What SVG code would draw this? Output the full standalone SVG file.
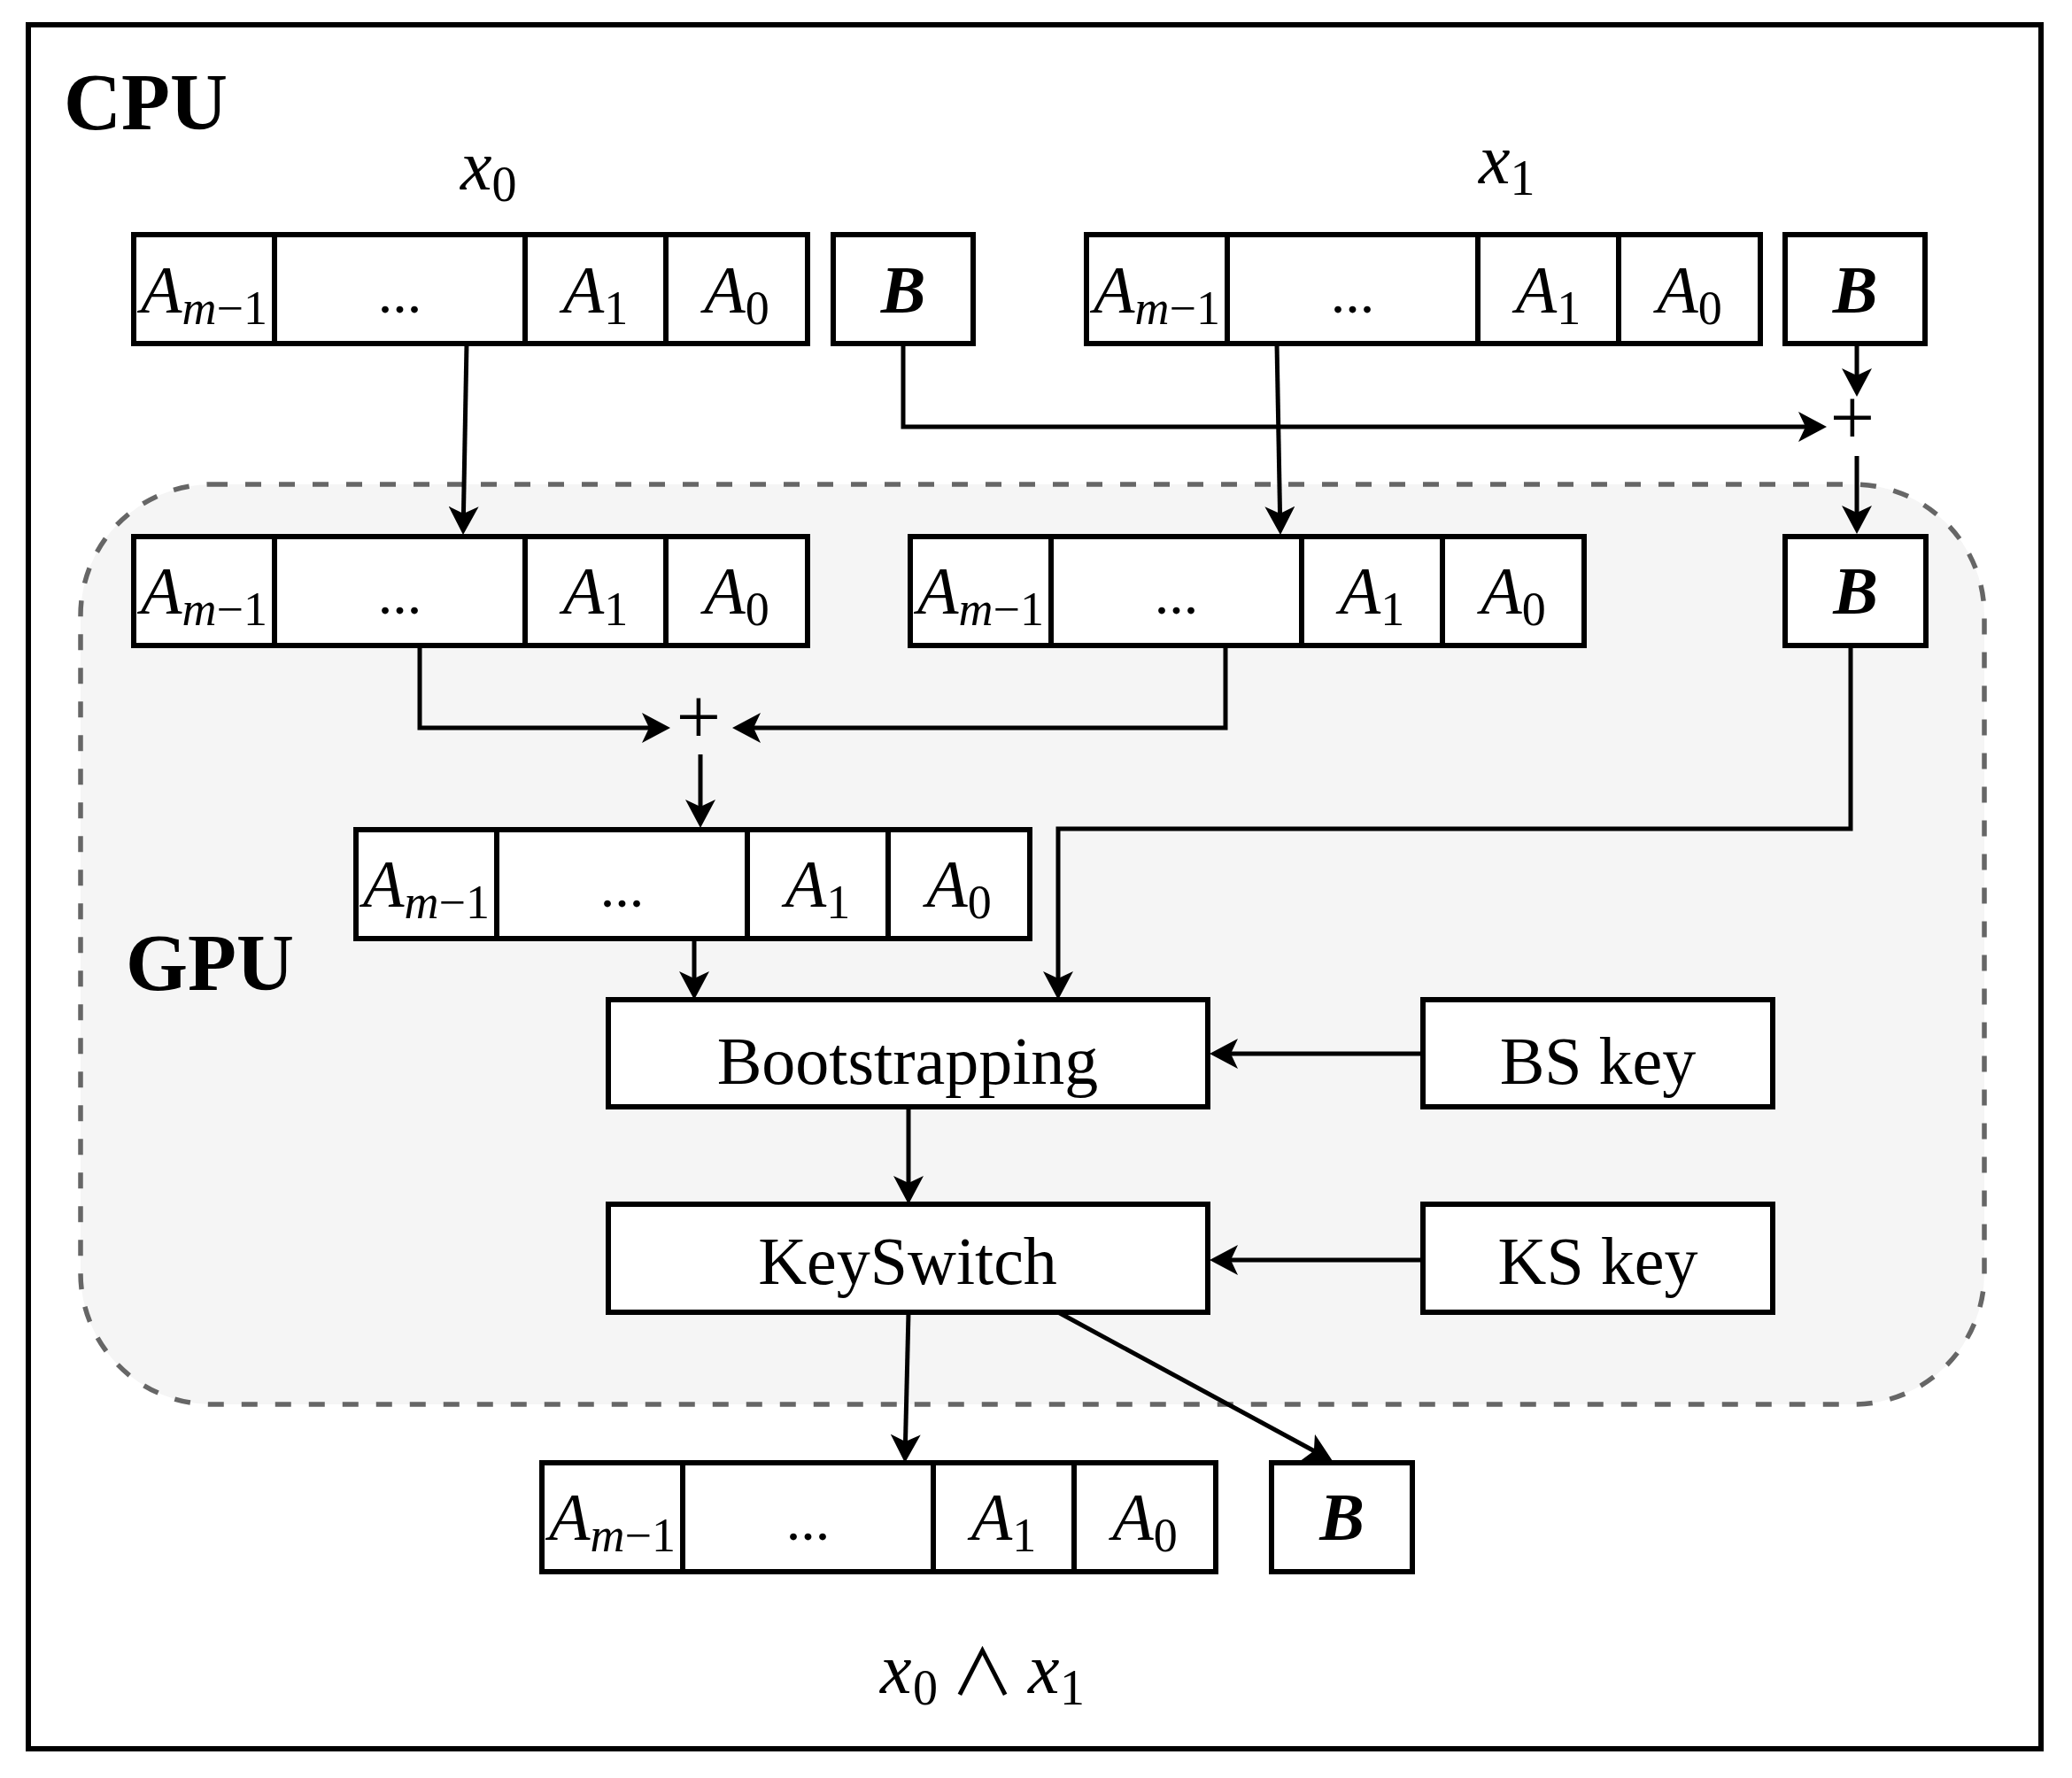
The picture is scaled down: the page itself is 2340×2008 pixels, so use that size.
<svg xmlns="http://www.w3.org/2000/svg" width="2340" height="2008" viewBox="0 0 2340 2008">
<style>
text{font-family:"Liberation Serif","DejaVu Serif",serif;fill:#000}
.box{fill:#fff;stroke:#000;stroke-width:6}
.cell{fill:none;stroke:#000;stroke-width:6}
.m{font-size:76px;font-style:italic;text-anchor:middle}
.b{font-size:76px;font-style:italic;font-weight:bold;text-anchor:middle}
.sb{font-size:54px;font-style:normal}
.it{font-style:italic}
.dots{font-size:66px;text-anchor:middle}
.lbl{font-size:76px;text-anchor:middle}
.title{font-size:90px;font-weight:bold}
.plus{font-size:90px;text-anchor:middle}
.con{fill:none;stroke:#000;stroke-width:5;marker-end:url(#arr)}
</style>
<defs>
<marker id="arr" viewBox="0 0 32 34" markerWidth="32" markerHeight="34" refX="22" refY="17" orient="auto" markerUnits="userSpaceOnUse">
<path d="M0,0 L32,17 L0,34 L8,17 Z" fill="#000"/>
</marker>
</defs>
<rect id="cpu-frame" x="32" y="28" width="2273" height="1947" fill="#fff" stroke="#000" stroke-width="6"/>
<g id="cpu-label"><text class="title" x="72" y="146">CPU</text></g>
<g id="gpu-region">
<rect x="91" y="547" width="2150" height="1039" rx="148" ry="148" fill="#f5f5f5" stroke="#666" stroke-width="5.5" stroke-dasharray="18 20"/>
<text class="title" x="142" y="1118">GPU</text>
</g>
<g id="label-x0"><text x="520" y="214" font-size="80" font-style="italic">x<tspan font-size="56" font-style="normal" dy="13">0</tspan></text></g>
<g id="label-x1"><text x="1670" y="207" font-size="80" font-style="italic">x<tspan font-size="56" font-style="normal" dy="13">1</tspan></text></g>

<g id="cpu-x0-A">
<rect class="box" x="151" y="265" width="761" height="123"/>
<path class="cell" d="M310,265V388M593,265V388M752,265V388"/>
<text class="m" x="230.5" y="353">A<tspan class="sb" dy="13"><tspan class="it">m</tspan>−1</tspan></text>
<text class="dots" x="451.5" y="353">...</text>
<text class="m" x="672.5" y="353">A<tspan class="sb" dy="13">1</tspan></text>
<text class="m" x="832" y="353">A<tspan class="sb" dy="13">0</tspan></text>
</g>
<g id="cpu-x0-B">
<rect class="box" x="941" y="265" width="158" height="123"/>
<text class="b" x="1020" y="353">B</text>
</g>
<g id="cpu-x1-A">
<rect class="box" x="1227" y="265" width="761" height="123"/>
<path class="cell" d="M1386,265V388M1669,265V388M1828,265V388"/>
<text class="m" x="1306.5" y="353">A<tspan class="sb" dy="13"><tspan class="it">m</tspan>−1</tspan></text>
<text class="dots" x="1527.5" y="353">...</text>
<text class="m" x="1748.5" y="353">A<tspan class="sb" dy="13">1</tspan></text>
<text class="m" x="1908" y="353">A<tspan class="sb" dy="13">0</tspan></text>
</g>
<g id="cpu-x1-B">
<rect class="box" x="2016" y="265" width="158" height="123"/>
<text class="b" x="2095" y="353">B</text>
</g>
<g id="plus-top"><text class="plus" x="2092" y="502">+</text></g>

<g id="gpu-x0-A">
<rect class="box" x="151" y="606" width="761" height="123"/>
<path class="cell" d="M310,606V729M593,606V729M752,606V729"/>
<text class="m" x="230.5" y="693">A<tspan class="sb" dy="13"><tspan class="it">m</tspan>−1</tspan></text>
<text class="dots" x="451.5" y="693">...</text>
<text class="m" x="672.5" y="693">A<tspan class="sb" dy="13">1</tspan></text>
<text class="m" x="832" y="693">A<tspan class="sb" dy="13">0</tspan></text>
</g>
<g id="gpu-x1-A">
<rect class="box" x="1028" y="606" width="761" height="123"/>
<path class="cell" d="M1187,606V729M1470,606V729M1629,606V729"/>
<text class="m" x="1107.5" y="693">A<tspan class="sb" dy="13"><tspan class="it">m</tspan>−1</tspan></text>
<text class="dots" x="1328.5" y="693">...</text>
<text class="m" x="1549.5" y="693">A<tspan class="sb" dy="13">1</tspan></text>
<text class="m" x="1709" y="693">A<tspan class="sb" dy="13">0</tspan></text>
</g>
<g id="gpu-B">
<rect class="box" x="2016" y="606" width="159" height="123"/>
<text class="b" x="2095.5" y="693">B</text>
</g>
<g id="plus-gpu"><text class="plus" x="789" y="840">+</text></g>

<g id="gpu-sum-A">
<rect class="box" x="402" y="937" width="761" height="123"/>
<path class="cell" d="M561,937V1060M844,937V1060M1003,937V1060"/>
<text class="m" x="481.5" y="1024">A<tspan class="sb" dy="13"><tspan class="it">m</tspan>−1</tspan></text>
<text class="dots" x="702.5" y="1024">...</text>
<text class="m" x="923.5" y="1024">A<tspan class="sb" dy="13">1</tspan></text>
<text class="m" x="1083" y="1024">A<tspan class="sb" dy="13">0</tspan></text>
</g>
<g id="bootstrapping">
<rect class="box" x="687" y="1129" width="677" height="121"/>
<text class="lbl" x="1025" y="1224">Bootstrapping</text>
</g>
<g id="bs-key">
<rect class="box" x="1607" y="1129" width="395" height="121"/>
<text class="lbl" x="1804.5" y="1224">BS key</text>
</g>
<g id="keyswitch">
<rect class="box" x="687" y="1360" width="677" height="122"/>
<text class="lbl" x="1025" y="1450">KeySwitch</text>
</g>
<g id="ks-key">
<rect class="box" x="1607" y="1360" width="395" height="122"/>
<text class="lbl" x="1804.5" y="1450">KS key</text>
</g>

<g id="out-A">
<rect class="box" x="612" y="1652" width="761" height="123"/>
<path class="cell" d="M771,1652V1775M1054,1652V1775M1213,1652V1775"/>
<text class="m" x="691.5" y="1739">A<tspan class="sb" dy="13"><tspan class="it">m</tspan>−1</tspan></text>
<text class="dots" x="912.5" y="1739">...</text>
<text class="m" x="1133.5" y="1739">A<tspan class="sb" dy="13">1</tspan></text>
<text class="m" x="1293" y="1739">A<tspan class="sb" dy="13">0</tspan></text>
</g>
<g id="out-B">
<rect class="box" x="1436" y="1652" width="159" height="123"/>
<text class="b" x="1515.5" y="1739">B</text>
</g>
<g id="label-and">
<text font-size="80" font-style="italic" y="1912"><tspan x="994">x</tspan><tspan x="1031" dy="13" font-size="56" font-style="normal">0</tspan><tspan x="1161" dy="-13">x</tspan><tspan x="1197" dy="13" font-size="56" font-style="normal">1</tspan></text>
<text x="1109.5" y="1914" font-size="72" text-anchor="middle" style="font-family:'Noto Sans CJK JP','Liberation Serif','DejaVu Serif',serif">∧</text>
</g>

<g id="connectors">
<path class="con" d="M527,388 L523.2,594"/>
<path class="con" d="M1442,388 L1445.8,594"/>
<path class="con" d="M1020,388 L1020,482 L2053,482"/>
<path class="con" d="M2097,388 L2097,438"/>
<path class="con" d="M2097,515 L2097,593"/>
<path class="con" d="M474,729 L474,822 L747,822"/>
<path class="con" d="M1384,729 L1384,822 L837,822"/>
<path class="con" d="M791,852 L791,925"/>
<path class="con" d="M784,1060 L784,1119"/>
<path class="con" d="M2090,729 L2090,936 L1195,936 L1195,1119"/>
<path class="con" d="M1026,1250 L1026,1350"/>
<path class="con" d="M1607,1190 L1376,1190"/>
<path class="con" d="M1607,1423 L1376,1423"/>
<path class="con" d="M1026,1482 L1022.2,1642"/>
<path class="con" d="M1195,1482 L1496.2,1645.2"/>
</g>
</svg>
